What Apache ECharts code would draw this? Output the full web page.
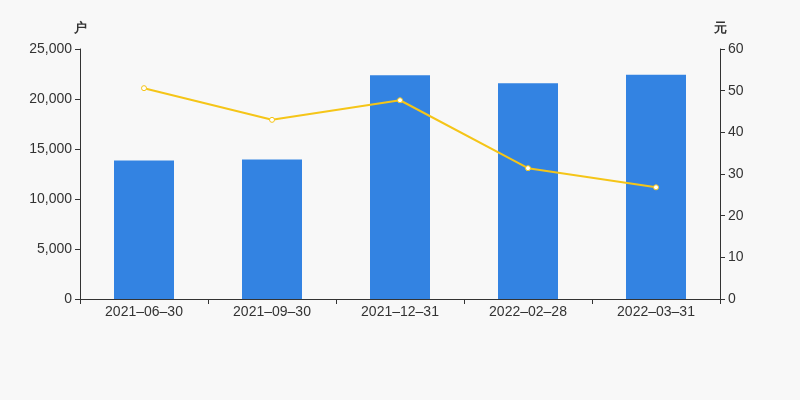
<!DOCTYPE html>
<html><head><meta charset="utf-8">
<script src="https://cdn.jsdelivr.net/npm/echarts@6/dist/echarts.min.js"></script>
<style>html,body{margin:0;padding:0;background:#f8f8f8}#c{width:800px;height:400px}</style>
</head><body><div id="c"></div>
<script>
const categories = ['2021-06-30','2021-09-30','2021-12-31','2022-02-28','2022-03-31'];
const holders = [13850, 13950, 22380, 21580, 22420];
const avgValue = [50.6, 43.0, 47.7, 31.4, 26.8];

const chart = echarts.init(document.getElementById('c'));
const axisCol = '#333';
const txt = '#333';
chart.setOption({
  backgroundColor: '#f8f8f8',
  animation: false,
  grid: {left: 80, right: 80, top: 49, bottom: 101},
  xAxis: {
    type: 'category', data: categories,
    axisLine: {lineStyle: {color: axisCol}},
    axisTick: {show: true},
    axisLabel: {color: txt, fontSize: 14, margin: 6,
      formatter: v => v.replace(/-/g, '\u2013')}
  },
  yAxis: [{
    type: 'value', name: '户', min: 0, max: 25000, interval: 5000,
    nameGap: 14,
    nameTextStyle: {color: txt, fontSize: 13, fontWeight: 'bold', align: 'center'},
    axisLine: {show: true, lineStyle: {color: axisCol}},
    axisTick: {show: true},
    splitLine: {show: false},
    axisLabel: {color: txt, fontSize: 14, formatter: v => v.toLocaleString('en-US')}
  }, {
    type: 'value', name: '元', min: 0, max: 60, interval: 10,
    nameGap: 14,
    nameTextStyle: {color: txt, fontSize: 13, fontWeight: 'bold', align: 'center'},
    axisLine: {show: true, lineStyle: {color: axisCol}},
    axisTick: {show: true},
    splitLine: {show: false},
    axisLabel: {color: txt, fontSize: 14}
  }],
  series: [{
    type: 'bar', data: holders, barWidth: 60, yAxisIndex: 0,
    itemStyle: {color: '#3383e2'}
  }, {
    type: 'line', data: avgValue, yAxisIndex: 1,
    symbol: 'circle', symbolSize: 5,
    lineStyle: {color: '#f5c518', width: 2},
    itemStyle: {color: '#fff', borderColor: '#f5c518', borderWidth: 1}
  }]
});
</script></body></html>
